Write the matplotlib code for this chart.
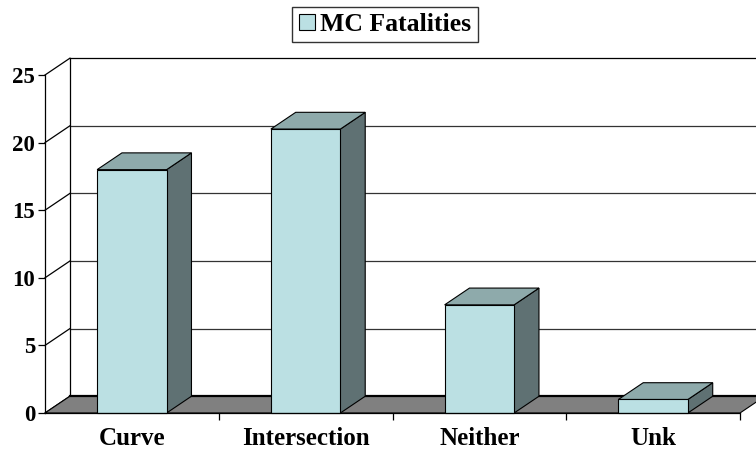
import matplotlib.pyplot as plt
from matplotlib.patches import Polygon, Rectangle, Patch

# Data
categories = ['Curve', 'Intersection', 'Neither', 'Unk']
fatalities = [18, 21, 8, 1]
series_name = 'MC Fatalities'
y_ticks = [0, 5, 10, 15, 20, 25]

# Colours (Excel 3D style)
front_col = '#bbe0e3'
top_col = '#8eaaab'
side_col = '#5f7173'
floor_col = '#808080'

plt.rcParams['font.family'] = ['Liberation Serif', 'DejaVu Serif']
plt.rcParams['font.weight'] = 'bold'

fig = plt.figure(figsize=(7.56, 4.5), dpi=100)
ax = fig.add_axes([45 / 756, 37 / 450, 695 / 756, 338 / 450])
ax.set_xlim(-0.5, 3.5)
ax.set_ylim(0, 25)

# 3D depth offset in data units
dx, dy = 0.143, 1.24
bw = 0.4
x0, x1 = -0.5, len(categories) - 0.5

# back wall gridlines and left wall diagonals
for v in y_ticks:
    if v > 0:
        ax.plot([x0 + dx, x1 + dx + 0.2], [v + dy, v + dy], color='#333333' if v < 25 else 'black',
                lw=0.9, clip_on=False, zorder=1)
    ax.plot([x0, x0 + dx], [v, v + dy], color='black', lw=0.9, clip_on=False, zorder=1)
ax.plot([x0 + dx, x0 + dx], [dy, 25 + dy], color='black', lw=0.9, clip_on=False, zorder=1)

# floor
ax.add_patch(Polygon([[x0, 0], [x1, 0], [x1 + dx, dy], [x0 + dx, dy]], closed=True,
                     facecolor=floor_col, edgecolor='black', lw=0.8, clip_on=False, zorder=2))
ax.plot([x0 + dx, x1 + dx], [dy, dy], color='black', lw=1.6, clip_on=False, zorder=2)

# bars
for i, v in enumerate(fatalities):
    l, r = i - bw / 2, i + bw / 2
    ax.add_patch(Polygon([[r, 0], [r + dx, dy], [r + dx, v + dy], [r, v]], closed=True,
                         facecolor=side_col, edgecolor='black', lw=0.8, clip_on=False, zorder=3))
    ax.add_patch(Polygon([[l, v], [r, v], [r + dx, v + dy], [l + dx, v + dy]], closed=True,
                         facecolor=top_col, edgecolor='black', lw=0.8, clip_on=False, zorder=3))
    ax.add_patch(Rectangle((l, 0), bw, v, facecolor=front_col, edgecolor='black', lw=0.8,
                           clip_on=False, zorder=4))

# axes styling
for s in ['top', 'right', 'bottom']:
    ax.spines[s].set_visible(False)
ax.spines['left'].set_linewidth(0.9)
ax.spines['left'].set_zorder(5)
ax.plot([x0, x1], [0, 0], color='black', lw=0.9, clip_on=False, zorder=5)

ax.set_yticks(y_ticks)
ax.tick_params(axis='y', length=5, width=0.9, labelsize=16.5, pad=2)
ax.set_xticks([i + 0.5 for i in range(len(categories))])
ax.set_xticklabels([])
ax.tick_params(axis='x', which='major', length=5, width=0.9, direction='out')
ax.set_xticks(range(len(categories)), minor=True)
ax.set_xticklabels(categories, minor=True, fontsize=18)
ax.tick_params(axis='x', which='minor', length=0, pad=10)
ax.set_facecolor('none')

# legend
handle = Patch(facecolor=front_col, edgecolor='black', lw=0.8)
leg = fig.legend([handle], [series_name], loc='center', bbox_to_anchor=(385 / 756, 1 - 24.5 / 450),
                 fontsize=18.5, frameon=True, fancybox=False, handlelength=0.62, handleheight=0.6,
                 handletextpad=0.2, borderpad=0.25, borderaxespad=0)
leg.get_frame().set_edgecolor('black')
leg.get_frame().set_linewidth(1.0)

fig.savefig('out.png', dpi=100)
